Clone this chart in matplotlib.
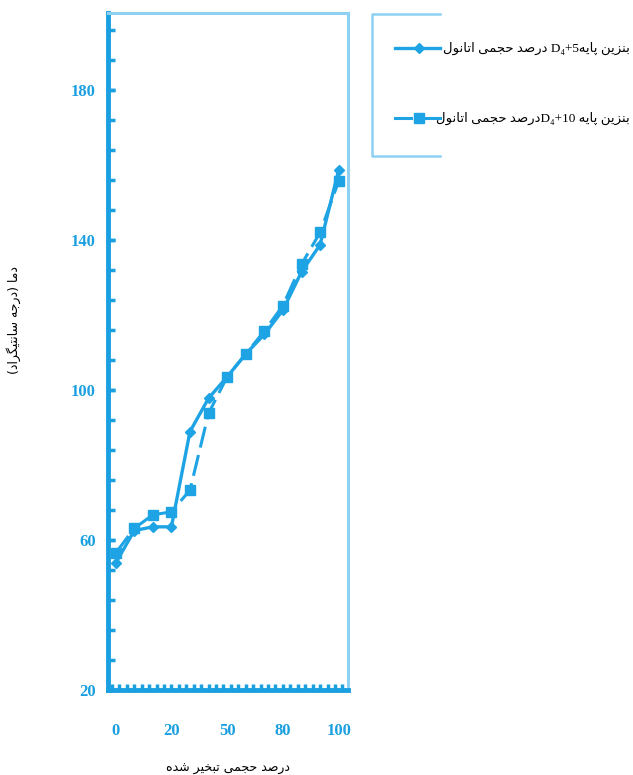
import re
import numpy as np
import matplotlib
matplotlib.use('Agg')
import matplotlib.pyplot as plt
from matplotlib.lines import Line2D

# ---- data ----
evap_percent = [0, 5, 10, 20, 30, 40, 50, 60, 70, 80, 90, 95, 100]
temp_e5 = [53.8, 62.5, 63.5, 63.5, 88.9, 97.8, 103.5, 109.6, 114.8, 121.3, 131.5, 138.7, 158.7]
temp_e10 = [56.5, 63.1, 66.7, 67.5, 73.3, 93.8, 103.5, 109.6, 115.7, 122.5, 133.5, 142.0, 155.7]
labeled_percents = [0, 20, 50, 80, 100]
labeled_temps = [20, 60, 100, 140, 180]

legend_e5 = 'بنزین پایهD₄+5 درصد حجمی اتانول'
legend_e10 = 'بنزین پایه D₄+10درصد حجمی اتانول'
xlabel_text = 'درصد حجمی تبخیر شده'
ylabel_text = 'دما (درجه سانتیگراد)'

LINE = '#1ea4e4'
AXIS = '#1a9fe0'
FRAME = '#8dd1f2'

# presentation forms: isolated, final, initial, medial (None = no joining to next letter)
FORMS = {
    'ا': ('\uFE8D', '\uFE8E', None, None),
    'ب': ('\uFE8F', '\uFE90', '\uFE91', '\uFE92'),
    'پ': ('\uFB56', '\uFB57', '\uFB58', '\uFB59'),
    'ت': ('\uFE95', '\uFE96', '\uFE97', '\uFE98'),
    'ج': ('\uFE9D', '\uFE9E', '\uFE9F', '\uFEA0'),
    'ح': ('\uFEA1', '\uFEA2', '\uFEA3', '\uFEA4'),
    'خ': ('\uFEA5', '\uFEA6', '\uFEA7', '\uFEA8'),
    'د': ('\uFEA9', '\uFEAA', None, None),
    'ر': ('\uFEAD', '\uFEAE', None, None),
    'ز': ('\uFEAF', '\uFEB0', None, None),
    'س': ('\uFEB1', '\uFEB2', '\uFEB3', '\uFEB4'),
    'ش': ('\uFEB5', '\uFEB6', '\uFEB7', '\uFEB8'),
    'ص': ('\uFEB9', '\uFEBA', '\uFEBB', '\uFEBC'),
    'گ': ('\uFB92', '\uFB93', '\uFB94', '\uFB95'),
    'ل': ('\uFEDD', '\uFEDE', '\uFEDF', '\uFEE0'),
    'م': ('\uFEE1', '\uFEE2', '\uFEE3', '\uFEE4'),
    'ن': ('\uFEE5', '\uFEE6', '\uFEE7', '\uFEE8'),
    'ه': ('\uFEE9', '\uFEEA', '\uFEEB', '\uFEEC'),
    'و': ('\uFEED', '\uFEEE', None, None),
    'ی': ('\uFBFC', '\uFBFD', '\uFBFE', '\uFBFF'),
}
MIRROR = {'(': ')', ')': '('}


def shape(s):
    out = []
    for i, c in enumerate(s):
        if c not in FORMS:
            out.append(MIRROR.get(c, c))
            continue
        prev = s[i - 1] if i > 0 else ''
        nxt = s[i + 1] if i + 1 < len(s) else ''
        jp = prev in FORMS and FORMS[prev][2] is not None
        jn = FORMS[c][2] is not None and nxt in FORMS
        if jp and jn:
            out.append(FORMS[c][3])
        elif jp:
            out.append(FORMS[c][1])
        elif jn:
            out.append(FORMS[c][2])
        else:
            out.append(FORMS[c][0])
    return ''.join(reversed(out))


def rtl(text):
    # simple right-to-left line: latin/digit runs stay as they are
    runs = re.split(r'([A-Za-z0-9\u2080-\u2089+]+)', text)
    vis = [r if re.fullmatch(r'[A-Za-z0-9\u2080-\u2089+]+', r) else shape(r) for r in runs if r]
    return ''.join(reversed(vis))


fig = plt.figure(figsize=(6.33, 7.75), dpi=100)
ax = fig.add_axes([108 / 633, 1 - 690 / 775, 240 / 633, 677 / 775])

pos = np.arange(len(evap_percent))
ax.plot(pos, temp_e10, color=LINE, lw=2.2, ls=(0, (7, 2.5)), marker='s', ms=7, zorder=2)
ax.plot(pos, temp_e5, color=LINE, lw=2.4, marker='D', ms=5.5, zorder=3)

ax.set_xlim(-0.41, 12.5)
ax.set_ylim(20, 200.5)

xt = [evap_percent.index(p) for p in labeled_percents]
ax.xaxis.remove_overlapping_locs = False
ax.yaxis.remove_overlapping_locs = False
ax.set_xticks(xt, [str(p) for p in labeled_percents])
ax.set_xticks(np.arange(-0.2, 12.5, 0.4), minor=True)
ax.tick_params(axis='x', which='major', length=0, pad=24, labelsize=12, labelcolor=AXIS)
ax.tick_params(axis='x', which='minor', direction='in', length=4, width=2.5, color=AXIS)

ax.set_yticks(labeled_temps)
ax.set_yticks(np.arange(20, 200, 8), minor=True)
ax.tick_params(axis='y', which='both', direction='in', length=5, width=2.5, color=AXIS)
ax.tick_params(axis='y', which='major', pad=9, labelsize=12, labelcolor=AXIS)
for lbl in ax.get_xticklabels() + ax.get_yticklabels():
    lbl.set_fontfamily('Liberation Serif')
    lbl.set_fontweight('bold')

for side in ['left', 'bottom']:
    ax.spines[side].set_color(AXIS)
    ax.spines[side].set_linewidth(3.5)
for side in ['top', 'right']:
    ax.spines[side].set_color(FRAME)
    ax.spines[side].set_linewidth(2.2)

ax.set_xlabel(rtl(xlabel_text), fontsize=9, labelpad=16)
fig.text(14 / 633, 1 - 320 / 775, rtl(ylabel_text), rotation=90, fontsize=9,
         ha='center', va='center')

# legend box (open on the right side)
fx = lambda px: px / 633
fy = lambda py: 1 - py / 775
fig.add_artist(Line2D([fx(440), fx(372), fx(372), fx(440)],
                      [fy(14), fy(14), fy(156), fy(156)],
                      transform=fig.transFigure, color=FRAME, lw=1.8))

y1, y2 = fy(48), fy(118)
fig.add_artist(Line2D([fx(395), fx(440)], [y1, y1], transform=fig.transFigure, color=LINE, lw=2.4))
fig.add_artist(Line2D([fx(419)], [y1], transform=fig.transFigure, color=LINE, marker='D', ms=5.5, ls='none'))
fig.add_artist(Line2D([fx(395), fx(411)], [y2, y2], transform=fig.transFigure, color=LINE, lw=2.2))
fig.add_artist(Line2D([fx(426), fx(440)], [y2, y2], transform=fig.transFigure, color=LINE, lw=2.2))
fig.add_artist(Line2D([fx(418.5)], [y2], transform=fig.transFigure, color=LINE, marker='s', ms=7, ls='none'))

fig.text(fx(630), y1, rtl(legend_e5), ha='right', va='center', fontsize=9.5,
         family=['Liberation Serif', 'DejaVu Sans'])
fig.text(fx(630), y2, rtl(legend_e10), ha='right', va='center', fontsize=9.5,
         family=['Liberation Serif', 'DejaVu Sans'])

fig.savefig('out.png', dpi=100)
